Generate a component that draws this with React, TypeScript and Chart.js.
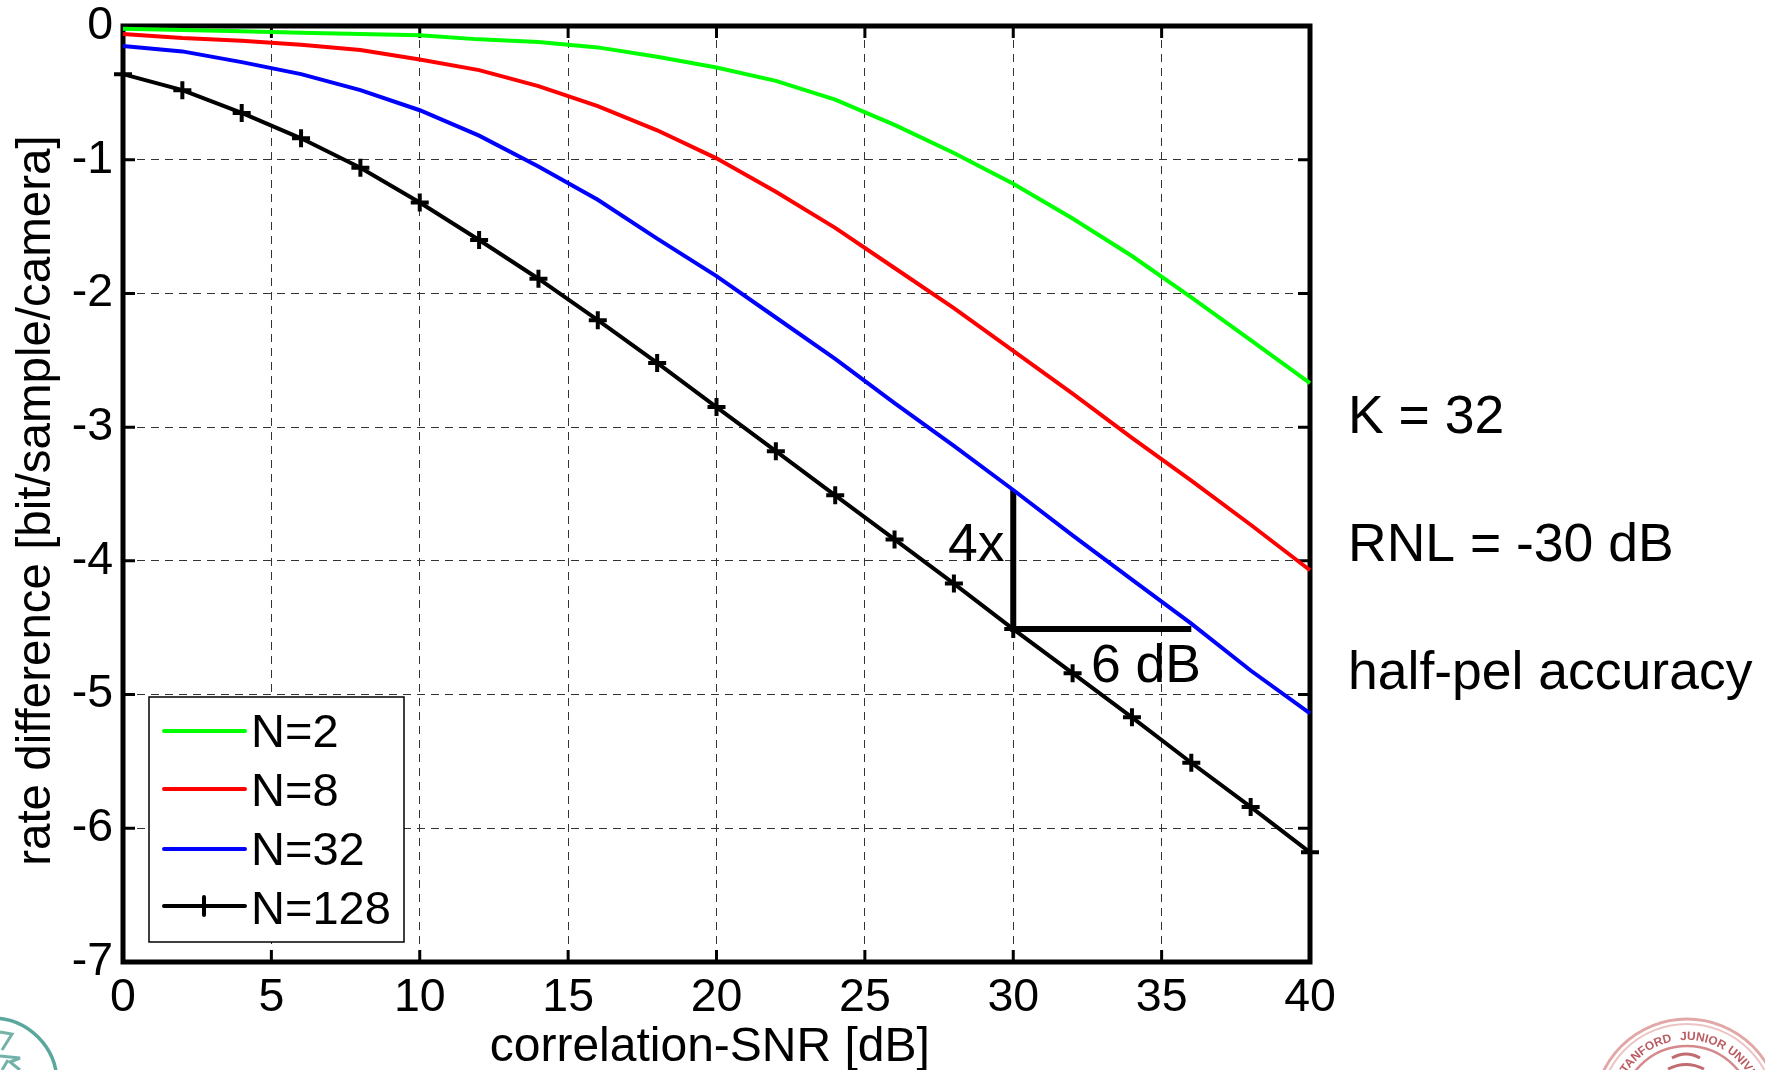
import React, { useEffect, useRef } from "react";
import { Chart, registerables } from "chart.js";

Chart.register(...registerables);

const snr = [0, 2, 4, 6, 8, 10, 12, 14, 16, 18, 20, 22, 24, 26, 28, 30, 32, 34, 36, 38, 40];
const n2 = [-0.02, -0.03, -0.04, -0.05, -0.06, -0.07, -0.1, -0.12, -0.16, -0.23, -0.31, -0.41, -0.55, -0.74, -0.95, -1.18, -1.44, -1.72, -2.03, -2.35, -2.67];
const n8 = [-0.06, -0.09, -0.11, -0.14, -0.18, -0.25, -0.33, -0.45, -0.6, -0.78, -0.99, -1.24, -1.51, -1.81, -2.11, -2.43, -2.75, -3.08, -3.4, -3.73, -4.07];
const n32 = [-0.15, -0.19, -0.27, -0.36, -0.48, -0.63, -0.82, -1.05, -1.3, -1.59, -1.87, -2.18, -2.49, -2.82, -3.14, -3.47, -3.81, -4.14, -4.47, -4.82, -5.14];
const n128 = [-0.36, -0.48, -0.65, -0.84, -1.06, -1.32, -1.6, -1.89, -2.2, -2.52, -2.85, -3.18, -3.51, -3.84, -4.17, -4.51, -4.84, -5.17, -5.51, -5.84, -6.18];
const slopeX = [30, 30, 36];
const slopeY = [-3.47, -4.51, -4.51];
const sideNotes = ["K = 32", "RNL = -30 dB", "half-pel accuracy"];
const FAMILY = '"Liberation Sans", Arial, sans-serif';

const pts = (xs: number[], ys: number[]) => xs.map((x, i) => ({ x, y: ys[i] }));

const framePlugin = {
  id: "frame",
  beforeDatasetsDraw(chart: any) {
    const { ctx, chartArea: a, scales } = chart;
    ctx.save();
    ctx.strokeStyle = "#000";
    ctx.lineWidth = 3;
    ctx.beginPath();
    for (let v = 5; v < 40; v += 5) {
      const x = scales.x.getPixelForValue(v);
      ctx.moveTo(x, a.bottom); ctx.lineTo(x, a.bottom - 12);
      ctx.moveTo(x, a.top); ctx.lineTo(x, a.top + 12);
    }
    for (let v = -6; v < 0; v += 1) {
      const y = scales.y.getPixelForValue(v);
      ctx.moveTo(a.left, y); ctx.lineTo(a.left + 12, y);
      ctx.moveTo(a.right, y); ctx.lineTo(a.right - 12, y);
    }
    ctx.stroke();
    ctx.lineWidth = 5;
    ctx.strokeRect(a.left, a.top, a.right - a.left, a.bottom - a.top);
    ctx.restore();
  },
  afterDatasetsDraw(chart: any) {
    const { ctx } = chart;
    ctx.save();
    ctx.font = `53.5px ${FAMILY}`;
    ctx.fillStyle = "#000";
    ctx.textBaseline = "middle";
    ctx.textAlign = "left";
    ctx.fillText("4x", 948, 546);
    ctx.fillText("6 dB", 1091, 667);
    sideNotes.forEach((t, i) => ctx.fillText(t, 1348, [418, 546, 674][i]));

    // legend
    ctx.font = `47px ${FAMILY}`;
    ctx.fillStyle = "#fff";
    ctx.fillRect(149, 697, 255, 245);
    ctx.strokeStyle = "#000";
    ctx.lineWidth = 1.5;
    ctx.strokeRect(149, 697, 255, 245);
    const rows = [731, 789, 849, 906];
    const textRows = [734, 793, 852, 911];
    chart.data.datasets.slice(0, 4).forEach((d: any, i: number) => {
      ctx.strokeStyle = d.borderColor;
      ctx.lineWidth = 4;
      ctx.lineCap = "round";
      ctx.beginPath();
      ctx.moveTo(164, rows[i]);
      ctx.lineTo(245, rows[i]);
      if (d.pointStyle === "cross") {
        ctx.moveTo(204, rows[i] - 9); ctx.lineTo(204, rows[i] + 9);
        ctx.moveTo(195, rows[i]); ctx.lineTo(213, rows[i]);
      }
      ctx.stroke();
      ctx.fillStyle = "#000";
      ctx.fillText(d.label, 251, textRows[i]);
    });
    ctx.restore();
  },
};

export default function App() {
  const ref = useRef<HTMLCanvasElement>(null);
  useEffect(() => {
    const chart = new Chart(ref.current!, {
      type: "scatter",
      plugins: [framePlugin],
      data: {
        datasets: [
          { label: "N=2", data: pts(snr, n2), borderColor: "#00ff00", backgroundColor: "#00ff00", showLine: true, borderWidth: 4, pointRadius: 0, clip: false },
          { label: "N=8", data: pts(snr, n8), borderColor: "#ff0000", backgroundColor: "#ff0000", showLine: true, borderWidth: 4, pointRadius: 0, clip: false },
          { label: "N=32", data: pts(snr, n32), borderColor: "#0000ff", backgroundColor: "#0000ff", showLine: true, borderWidth: 4, pointRadius: 0, clip: false },
          { label: "N=128", data: pts(snr, n128), borderColor: "#000", backgroundColor: "#000", showLine: true, borderWidth: 4, pointStyle: "cross", pointRadius: 9, pointBorderWidth: 4, pointBorderColor: "#000", clip: false },
          { label: "slope", data: pts(slopeX, slopeY), borderColor: "#000", showLine: true, borderWidth: 6, pointRadius: 0, borderCapStyle: "butt", clip: false },
        ],
      } as any,
      options: {
        responsive: false,
        animation: false,
        layout: { padding: { top: 26, right: 455, bottom: 0, left: 0 } },
        plugins: { legend: { display: false }, tooltip: { enabled: false } },
        scales: {
          x: {
            type: "linear",
            min: 0,
            max: 40,
            afterFit: (s: any) => { s.height = 108; s.paddingLeft = 0; s.paddingRight = 0; },
            border: { display: false, dash: [8, 6] },
            grid: { color: "#333", lineWidth: 1, drawTicks: false },
            ticks: { stepSize: 5, color: "#000", padding: 8, maxRotation: 0, font: { family: FAMILY, size: 46.5 } },
            title: { display: true, text: "correlation-SNR [dB] ", color: "#000", padding: { top: 0, bottom: 0 }, font: { family: FAMILY, size: 48, lineHeight: 0.92 } },
          },
          y: {
            type: "linear",
            min: -7,
            max: 0,
            afterFit: (s: any) => { s.width = 123; s.paddingTop = 0; s.paddingBottom = 0; },
            border: { display: false, dash: [8, 6] },
            grid: { color: "#333", lineWidth: 1, drawTicks: false },
            ticks: { stepSize: 1, color: "#000", padding: 10, font: { family: FAMILY, size: 46.5 } },
            title: { display: true, text: "rate difference [bit/sample/camera] ", color: "#000", padding: { top: 8.5, bottom: 0 }, font: { family: FAMILY, size: 47.5 } },
          },
        },
      },
    } as any);
    return () => chart.destroy();
  }, []);
  return (
    <div style={{ position: "absolute", left: 0, top: 0, width: 1765, height: 1070, overflow: "hidden", background: "#fff" }}>
      <canvas ref={ref} width={1765} height={1070} style={{ display: "block", width: 1765, height: 1070 }} />
      <svg width={1765} height={1070} style={{ position: "absolute", left: 0, top: 0 }}>
        <defs>
          <filter id="soft"><feGaussianBlur stdDeviation="0.7" /></filter>
          <path id="sealRing" d="M 1615 1112 A 72 72 0 0 1 1759 1112" />
        </defs>
        <g filter="url(#soft)">
          <circle cx={-8} cy={1083} r={65} fill="none" stroke="#5aa89d" strokeWidth={3.5} />
          <path d="M 0 1032 L 12 1034 L 2 1050 M 0 1056 L 20 1058 L 10 1062 L 20 1070 M 2 1070 L 8 1060" fill="none" stroke="#4f9f94" strokeWidth={3} opacity={0.8} />
          <circle cx={1687} cy={1112} r={93} fill="none" stroke="#e2a8a8" strokeWidth={3} />
          <circle cx={1687} cy={1112} r={88} fill="none" stroke="#ecc4c4" strokeWidth={2} />
          <circle cx={1687} cy={1112} r={66} fill="none" stroke="#d48a8c" strokeWidth={2.5} />
          <text fill="#a8323a" opacity={0.8} fontFamily={FAMILY} fontSize={12} fontWeight={700} textAnchor="end">
            <textPath href="#sealRing" startOffset={98}>LELAND STANFORD</textPath>
          </text>
          <text fill="#a8323a" opacity={0.8} fontFamily={FAMILY} fontSize={12} fontWeight={700}>
            <textPath href="#sealRing" startOffset={106}>JUNIOR UNIVERSITY</textPath>
          </text>
          <path d="M 1672 1058 Q 1686 1050 1700 1058 M 1668 1069 Q 1686 1060 1704 1069" fill="none" stroke="#b0474c" strokeWidth={3} opacity={0.8} />
        </g>
      </svg>
    </div>
  );
}
